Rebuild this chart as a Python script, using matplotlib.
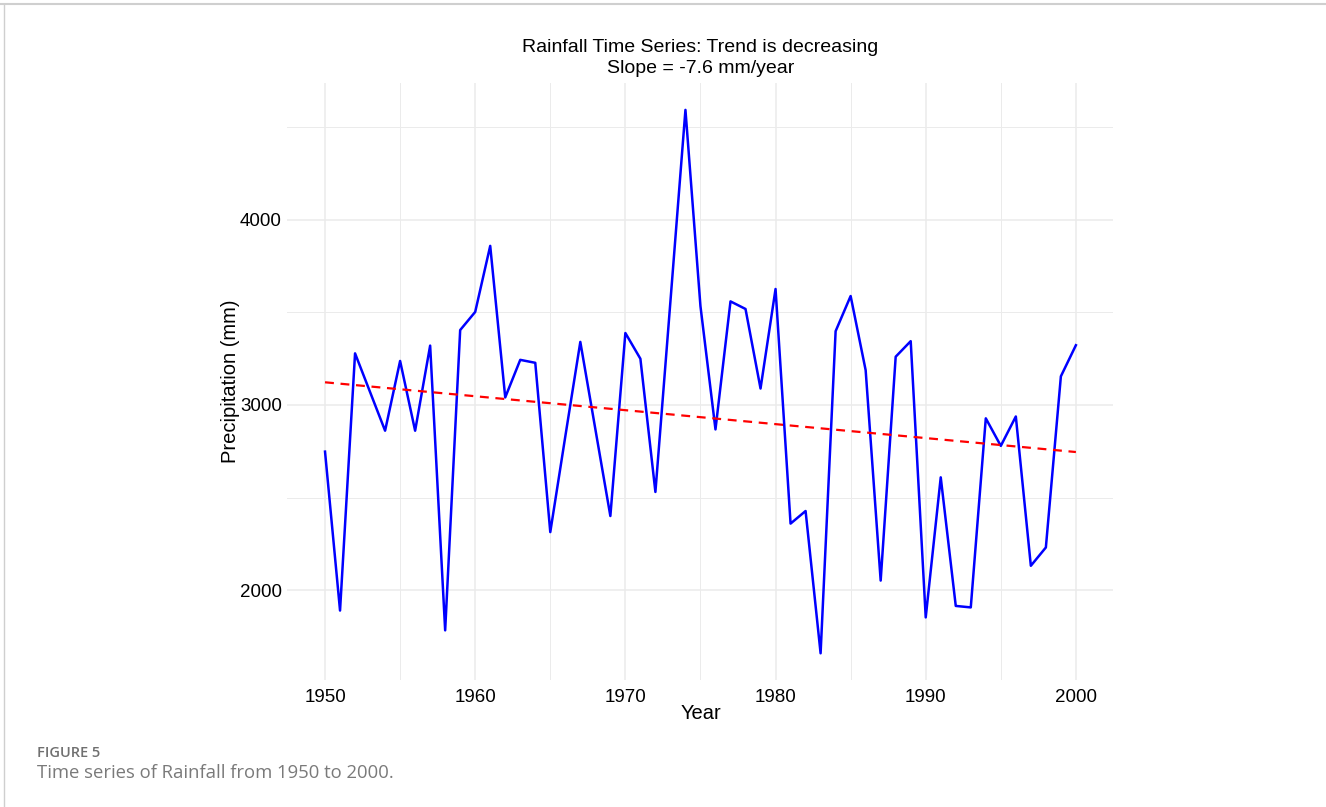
import numpy as np
import matplotlib
matplotlib.use("Agg")
import matplotlib.pyplot as plt
from matplotlib.lines import Line2D

# -------------------- data --------------------
years = list(range(1950, 2001))
rain_mm = [
    2748, 1889, 3279, 3070, 2861, 3238, 2861, 3321, 1782, 3405,
    3503, 3860, 3041, 3244, 3228, 2313, 2830, 3341, 2870, 2400,
    3389, 3250, 2530, 3560, 4595, 3534, 2868, 3560, 3519, 3089,
    3627, 2359, 2427, 1658, 3399, 3589, 3188, 2051, 3261, 3345,
    1852, 2609, 1914, 1906, 2928, 2779, 2938, 2131, 2230, 3155,
    3323,
]
x_ticks = [1950, 1960, 1970, 1980, 1990, 2000]
y_ticks = [2000, 3000, 4000]
title_text = "Rainfall Time Series: Trend is decreasing\nSlope = -7.6 mm/year"

x = np.array(years)
y = np.array(rain_mm)
slope, intercept = np.polyfit(x, y, 1)
trend = slope * x + intercept

# -------------------- figure --------------------
plt.rcParams['font.family'] = ['Liberation Sans', 'DejaVu Sans']
fig = plt.figure(figsize=(13.26, 8.07), dpi=100)
ax = fig.add_axes([0.2168, 0.1568, 0.6229, 0.7407])

grid_col = '#EBEBEB'
for yy in range(1500, 5001, 500):
    ax.axhline(yy, color=grid_col, lw=1.1 if yy % 1000 == 0 else 0.7, zorder=0)
for xx in range(1945, 2006, 5):
    ax.axvline(xx, color=grid_col, lw=1.1 if xx % 10 == 0 else 0.7, zorder=0)

ax.plot(x, y, color='blue', lw=1.8, zorder=3)
ax.plot(x, trend, color='red', lw=1.6, ls=(0, (4, 3)), zorder=4)

span_x = x.max() - x.min()
span_y = y.max() - y.min()
ax.set_xlim(x.min() - 0.05 * span_x, x.max() + 0.05 * span_x)
ax.set_ylim(y.min() - 0.05 * span_y, y.max() + 0.05 * span_y)

ax.set_xticks(x_ticks)
ax.set_yticks(y_ticks)
ax.tick_params(length=0, labelsize=13.5, colors='black')
ax.tick_params(axis='y', pad=4)
ax.tick_params(axis='x', pad=6)
for s in ax.spines.values():
    s.set_visible(False)

ax.set_xlabel('Year', fontsize=14.5, labelpad=-1)
ax.set_ylabel('Precipitation (mm)', fontsize=14.5, labelpad=0)
ax.set_title(title_text, fontsize=14, linespacing=1.28, pad=7)

# page frame and caption
fig.add_artist(Line2D([0, 1], [0.995, 0.995], color='#CFCFCF', lw=1.5))
fig.add_artist(Line2D([0.003, 0.003], [0, 0.995], color='#CFCFCF', lw=1.0))
fig.text(37 / 1326, 1 - 753 / 807, 'FIGURE 5', fontsize=10.5, color='#707070',
         family=['Open Sans', 'DejaVu Sans'], weight='semibold', va='center')
fig.text(37 / 1326, 1 - 773 / 807, 'Time series of Rainfall from 1950 to 2000.',
         fontsize=13.3, color='#7A7A7A', family=['Open Sans', 'DejaVu Sans'], va='center')

fig.savefig('out.png', dpi=100, facecolor='white')
